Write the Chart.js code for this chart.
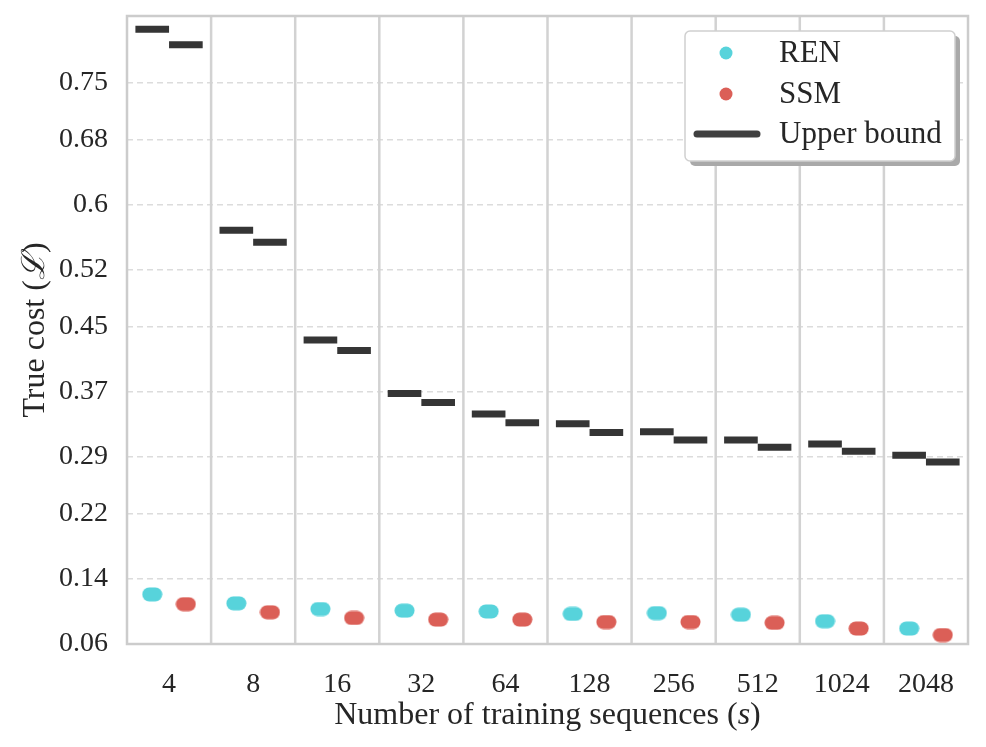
<!DOCTYPE html>
<html>
<head>
<meta charset="utf-8">
<script src="https://cdn.jsdelivr.net/npm/chart.js@4.4.0/dist/chart.umd.min.js"></script>
<style>
  html, body { margin: 0; padding: 0; background: #fff; }
  #wrap { width: 986px; height: 747px; }
</style>
</head>
<body>
<div id="wrap"><canvas id="costChart"></canvas></div>
<script>
// data
const sequences = ['4', '8', '16', '32', '64', '128', '256', '512', '1024', '2048'];
const renCost  = [0.121, 0.110, 0.103, 0.101, 0.100, 0.097, 0.098, 0.096, 0.088, 0.079];
const ssmCost  = [0.109, 0.099, 0.092, 0.090, 0.090, 0.087, 0.087, 0.086, 0.079, 0.071];
const renBound = [0.816, 0.569, 0.434, 0.368, 0.343, 0.331, 0.321, 0.311, 0.306, 0.292];
const ssmBound = [0.797, 0.554, 0.421, 0.357, 0.332, 0.320, 0.311, 0.302, 0.297, 0.284];
const yTicks = [0.06, 0.14, 0.22, 0.29, 0.37, 0.45, 0.52, 0.6, 0.68, 0.75];
const legendLabels = ['REN', 'SSM', 'Upper bound'];

const colRen = '#57d3db';
const colSsm = '#db5f57';
const colBound = '#353535';
const textCol = '#262626';
const serif = "'Liberation Serif', 'DejaVu Serif', serif";

// the jittered points overlap into a small pill, so draw one pill per run
function pill(color) {
    const c = document.createElement('canvas');
    c.width = 21;
    c.height = 15;
    const g = c.getContext('2d');
    g.fillStyle = color;
    g.beginPath();
    g.roundRect(0.5, 0.5, 20, 14, 7);
    g.fill();
    return c;
}

function points(values, shift) {
    return values.map((v, i) => ({x: i + shift, y: v}));
}

// one flat segment per category, null point breaks the line
function segments(values, from, to) {
    const out = [];
    values.forEach((v, i) => {
        out.push({x: i + from, y: v});
        out.push({x: i + to, y: v});
        out.push({x: i + to, y: null});
    });
    return out;
}

const frame = {
    id: 'frame',
    beforeDatasetsDraw(chart) {
        const {ctx, chartArea: a, scales: {x}} = chart;
        ctx.save();
        ctx.strokeStyle = '#d2d2d2';
        ctx.lineWidth = 2.5;
        for (let i = 0; i < sequences.length - 1; i++) {
            const px = x.getPixelForValue(i + 0.5);
            ctx.beginPath();
            ctx.moveTo(px, a.top);
            ctx.lineTo(px, a.bottom);
            ctx.stroke();
        }
        ctx.strokeStyle = '#cccccc';
        ctx.strokeRect(a.left, a.top, a.right - a.left, a.bottom - a.top);
        ctx.restore();
    }
};

function drawParts(ctx, parts, cx, cy) {
    let w = 0;
    parts.forEach(p => { ctx.font = p[1]; w += ctx.measureText(p[0]).width; });
    let xx = cx - w / 2;
    parts.forEach(p => {
        ctx.font = p[1];
        ctx.fillText(p[0], xx, cy);
        xx += ctx.measureText(p[0]).width;
    });
}

const axisTitles = {
    id: 'axisTitles',
    afterDraw(chart) {
        const {ctx, chartArea: a} = chart;
        const f = '32px ' + serif;
        const fi = 'italic 32px ' + serif;
        ctx.save();
        ctx.fillStyle = textCol;
        ctx.textAlign = 'left';
        ctx.textBaseline = 'alphabetic';
        drawParts(ctx, [['Number of training sequences (', f], ['s', fi], [')', f]],
            (a.left + a.right) / 2, 724);
        ctx.translate(44, (a.top + a.bottom) / 2);
        ctx.rotate(-Math.PI / 2);
        drawParts(ctx, [['True cost (', f], ['\u2112', fi], [')', f]], 0, 0);
        ctx.restore();
    }
};

const legendBox = {
    id: 'legendBox',
    afterDraw(chart) {
        const {ctx, chartArea: a} = chart;
        const w = 270, h = 130;
        const left = a.right - 13 - w, top = a.top + 15;
        ctx.save();
        ctx.fillStyle = '#a9a9a9';
        ctx.beginPath();
        ctx.roundRect(left + 5, top + 5, w, h, 5);
        ctx.fill();
        ctx.fillStyle = '#ffffff';
        ctx.strokeStyle = '#d0d0d0';
        ctx.lineWidth = 1.5;
        ctx.beginPath();
        ctx.roundRect(left, top, w, h, 5);
        ctx.fill();
        ctx.stroke();

        ctx.fillStyle = colRen;
        ctx.beginPath();
        ctx.arc(left + 41, top + 22, 6.5, 0, Math.PI * 2);
        ctx.fill();
        ctx.fillStyle = colSsm;
        ctx.beginPath();
        ctx.arc(left + 41, top + 63, 6.5, 0, Math.PI * 2);
        ctx.fill();
        ctx.strokeStyle = '#404040';
        ctx.lineWidth = 7;
        ctx.lineCap = 'round';
        ctx.beginPath();
        ctx.moveTo(left + 12, top + 103);
        ctx.lineTo(left + 72, top + 103);
        ctx.stroke();

        ctx.fillStyle = textCol;
        ctx.font = '31px ' + serif;
        ctx.textBaseline = 'middle';
        ctx.textAlign = 'left';
        [22, 63, 103].forEach((dy, i) => ctx.fillText(legendLabels[i], left + 94, top + dy + 1));
        ctx.restore();
    }
};

const dataCost = {
    datasets: [
        {
            label: 'Upper bound REN',
            data: segments(renBound, -0.4, 0),
            showLine: true,
            borderColor: colBound,
            borderWidth: 7,
            pointRadius: 0,
            spanGaps: false
        },
        {
            label: 'Upper bound SSM',
            data: segments(ssmBound, 0, 0.4),
            showLine: true,
            borderColor: colBound,
            borderWidth: 7,
            pointRadius: 0,
            spanGaps: false
        },
        {
            label: 'REN',
            data: points(renCost, -0.2),
            pointStyle: pill(colRen),
            pointRadius: 8
        },
        {
            label: 'SSM',
            data: points(ssmCost, 0.2),
            pointStyle: pill(colSsm),
            pointRadius: 8
        }
    ]
};

const configCost = {
    type: 'scatter',
    data: dataCost,
    options: {
        responsive: true,
        maintainAspectRatio: false,
        animation: false,
        layout: {padding: {top: 16, right: 18, left: 0, bottom: 0}},
        plugins: {legend: {display: false}, tooltip: {enabled: false}},
        scales: {
            x: {
                type: 'linear',
                min: -0.5,
                max: 9.5,
                afterBuildTicks: s => { s.ticks = sequences.map((_, i) => ({value: i})); },
                afterFit: s => {
                    s.height = 103;
                    s.paddingLeft = 0;
                    s.paddingRight = 0;
                },
                grid: {display: false},
                border: {display: false},
                ticks: {
                    callback: v => sequences[v],
                    font: {family: serif, size: 28},
                    color: textCol,
                    padding: 16,
                    maxRotation: 0,
                    autoSkip: false
                }
            },
            y: {
                min: 0.06,
                max: 0.8324,
                afterBuildTicks: s => { s.ticks = yTicks.map(v => ({value: v})); },
                afterFit: s => {
                    s.width = 127;
                    s.paddingTop = 0;
                    s.paddingBottom = 0;
                },
                grid: {color: '#dcdcdc', lineWidth: 1.5, drawTicks: false},
                border: {display: false, dash: [6, 4]},
                ticks: {
                    callback: v => String(v),
                    font: {family: serif, size: 28},
                    color: textCol,
                    padding: 19
                }
            }
        }
    },
    plugins: [frame, axisTitles, legendBox]
};

const myCostChart = new Chart(document.getElementById('costChart'), configCost);
</script>
</body>
</html>
